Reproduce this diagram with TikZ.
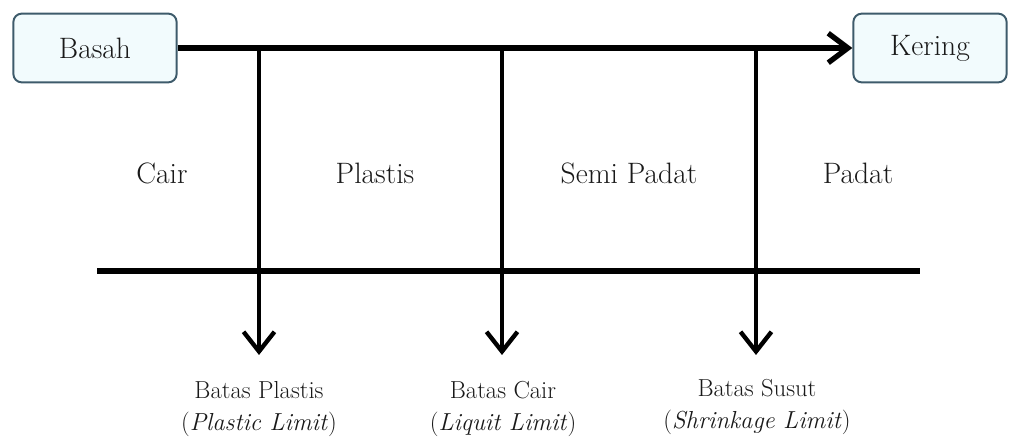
\documentclass[tikz,border=0pt]{standalone}
\usepackage{xcolor}
\usetikzlibrary{arrows.meta}

\definecolor{boxline}{HTML}{3E5B6B}
\definecolor{boxfill}{HTML}{F2FBFD}

\begin{document}
\begin{tikzpicture}[x=0.025cm,y=-0.025cm,
    state/.style={draw=boxline, fill=boxfill, line width=1.4pt, rounded corners=6pt,
                  minimum height=1.72cm, text=black!90, font=\fontsize{21}{25}\selectfont},
    phase/.style={text=black!90, font=\fontsize{21}{25}\selectfont},
    limit/.style={align=center, text=black!90, font=\fontsize{17.5}{22.7}\selectfont},
    flow/.style={line width=3.8pt, -{Straight Barb[length=14pt,width=21pt]}},
    drop/.style={line width=3.1pt, -{Straight Barb[length=14pt,width=22pt]}}]
    \useasboundingbox (0,0) rectangle (1009,439);

    % start and end states
    \node[state, minimum width=4.08cm] (basah) at (95,48) {Basah};
    \node[state, minimum width=3.83cm] (kering) at (930,48) {Kering};
    \draw[flow] (basah) -- (kering);

    % phases between the limits
    \node[phase] (cair) at (162,173) {Cair};
    \node[phase] (plastis) at (375,173) {Plastis};
    \node[phase] (semipadat) at (629,173) {Semi Padat};
    \node[phase] (padat) at (858,173) {Padat};

    % lower base line
    \coordinate (lineL) at (97,271);
    \coordinate (lineR) at (920,271);
    \draw[line width=3.8pt] (lineL) -- (lineR);

    % limits
    \coordinate (topPL) at (259,48);
    \coordinate (topLL) at (502,48);
    \coordinate (topSL) at (756,48);
    \coordinate (tipPL) at (259,355);
    \coordinate (tipLL) at (502,355);
    \coordinate (tipSL) at (756,355);
    \draw[drop] (topPL) -- (tipPL);
    \draw[drop] (topLL) -- (tipLL);
    \draw[drop] (topSL) -- (tipSL);

    \node[limit] (batasplastis) at (259,409) {Batas Plastis\\(\textit{Plastic Limit})};
    \node[limit] (batascair) at (503,409) {Batas Cair\\(\textit{Liquit Limit})};
    \node[limit] (batassusut) at (757,407) {Batas Susut\\(\textit{Shrinkage Limit})};
\end{tikzpicture}
\end{document}
